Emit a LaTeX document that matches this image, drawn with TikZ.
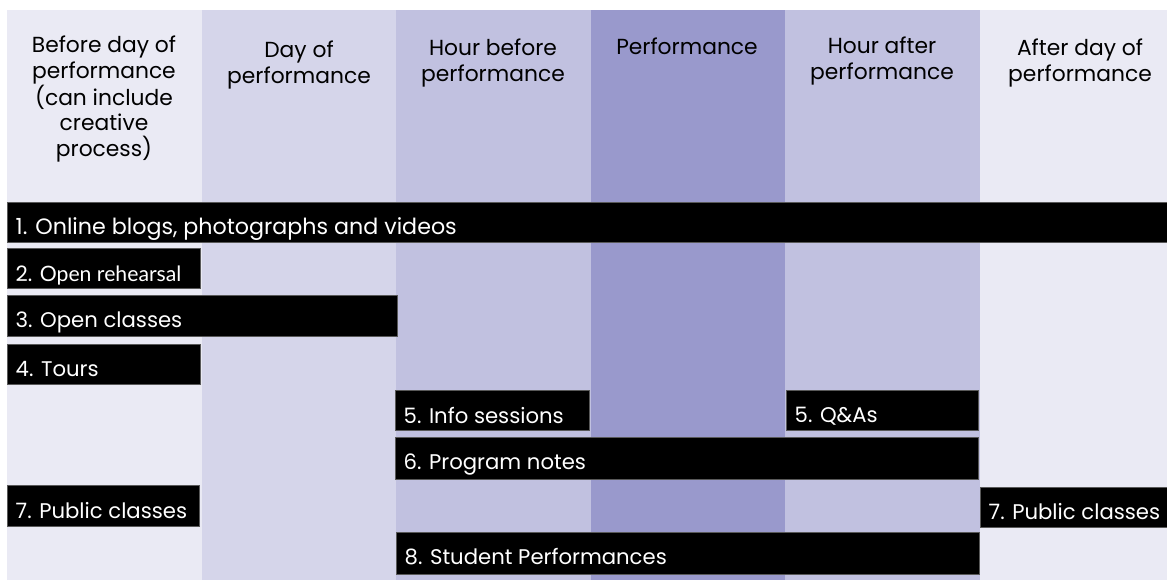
\documentclass[tikz,border=0pt]{standalone}
\usepackage{fontspec}
\setmainfont{Poppins}
\newfontfamily\narrowfont{Lato}
\definecolor{laneLight}{HTML}{EAEAF4}
\definecolor{laneSoft}{HTML}{D5D5EA}
\definecolor{laneMid}{HTML}{C1C1E0}
\definecolor{laneDeep}{HTML}{9999CC}
% centred stack of lines whose reference point is the first baseline
\newcommand\headstack[1]{\vtop{\halign{\hfil##\hfil\cr#1\cr}}}
\begin{document}
\begin{tikzpicture}[x=1pt,y=-1pt,
  lane/.style={draw=none, inner sep=0pt, anchor=north west, minimum height=570pt},
  hdr/.style={anchor=base, inner sep=0pt, text=black, font=\fontsize{21.8}{26}\selectfont},
  bar/.style={fill=black, draw=black!65, line width=0.5pt, anchor=north west, inner sep=0pt},
  bartext/.style={anchor=base west, inner sep=0pt, text=white, font=\fontsize{21.2}{25}\selectfont}
]
\useasboundingbox (0,0) rectangle (1167,580);

% time lanes
\node[lane, fill=laneLight, minimum width=195pt] (l1) at (7,10) {};
\node[lane, fill=laneSoft,  minimum width=194pt] (l2) at (202,10) {};
\node[lane, fill=laneMid,   minimum width=195pt] (l3) at (396,10) {};
\node[lane, fill=laneDeep,  minimum width=194pt] (l4) at (591,10) {};
\node[lane, fill=laneMid,   minimum width=195pt] (l5) at (785,10) {};
\node[lane, fill=laneLight, minimum width=195pt] (l6) at (980,10) {};

% lane headings
\node[hdr, font=\fontsize{21.8}{25.6}\selectfont] (h1) at (104,52.7) {\headstack{Before day of\cr performance\cr (can include\cr creative\cr process)}};
\node[hdr] (h2) at (299,57.3) {\headstack{Day of\cr performance}};
\node[hdr] (h3) at (493,56) {\headstack{Hour before\cr performance}};
\node[hdr] (h4) at (687,54.3) {Performance};
\node[hdr] (h5) at (882,53.3) {\headstack{Hour after\cr performance}};
\node[hdr] (h6) at (1080,56) {\headstack{After day of\cr performance}};

% activity bars
\node[bar, minimum width=1170pt, minimum height=40pt] (b1) at (7,202) {};
\node[bartext, font=\fontsize{22.2}{25}\selectfont] (t1) at ([xshift=8.5pt,yshift=7.5pt]b1.south west) {1. Online blogs, photographs and videos};

\node[bar, minimum width=193pt, minimum height=40pt] (b2) at (7,248) {};
\node[bartext] (t2) at ([xshift=8.5pt,yshift=7.5pt]b2.south west) {2. {\narrowfont Open rehearsal}};

\node[bar, minimum width=390pt, minimum height=41pt] (b3) at (7,295) {};
\node[bartext] (t3) at ([xshift=8.5pt,yshift=9pt]b3.south west) {3. Open classes};

\node[bar, minimum width=193pt, minimum height=40pt] (b4) at (7,344) {};
\node[bartext] (t4) at ([xshift=8.5pt,yshift=8pt]b4.south west) {4. Tours};

\node[bar, minimum width=194pt, minimum height=40pt] (b5) at (395,390) {};
\node[bartext] (t5) at ([xshift=8.5pt,yshift=7.5pt]b5.south west) {5. Info sessions};

\node[bar, minimum width=192pt, minimum height=40pt] (b6) at (786,390) {};
\node[bartext] (t6) at ([xshift=8.5pt,yshift=8pt]b6.south west) {5. Q\&As};

\node[bar, minimum width=583pt, minimum height=42pt] (b7) at (395,437) {};
\node[bartext] (t7) at ([xshift=8.5pt,yshift=10pt]b7.south west) {6. Program notes};

\node[bar, minimum width=192pt, minimum height=41pt] (b8) at (7,485) {};
\node[bartext] (t8) at ([xshift=8.5pt,yshift=8.3pt]b8.south west) {7. Public classes};

\node[bar, minimum width=195pt, minimum height=40pt] (b9) at (980,487) {};
\node[bartext] (t9) at ([xshift=8.5pt,yshift=8pt]b9.south west) {7. Public classes};

\node[bar, minimum width=583pt, minimum height=42pt] (b10) at (396,532) {};
\node[bartext] (t10) at ([xshift=8.5pt,yshift=10pt]b10.south west) {8. Student Performances};
\end{tikzpicture}
\end{document}
